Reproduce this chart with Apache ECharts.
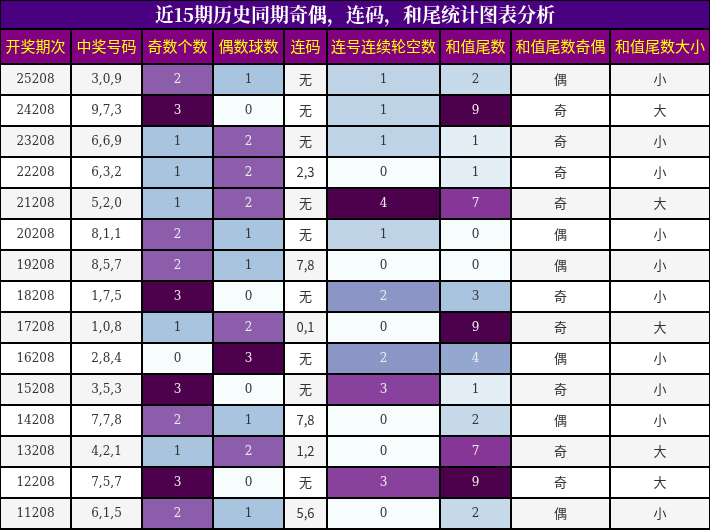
<!DOCTYPE html>
<html><head><meta charset="utf-8">
<script src="https://cdn.jsdelivr.net/npm/echarts@6/dist/echarts.min.js"></script>
<style>html,body{margin:0;padding:0;background:#fff}#c{width:710px;height:530px}</style>
</head><body><div id="c"></div>
<script>
var title = '近15期历史同期奇偶，连码，和尾统计图表分析';
var headers = ['开奖期次', '中奖号码', '奇数个数', '偶数球数', '连码', '连号连续轮空数', '和值尾数', '和值尾数奇偶', '和值尾数大小'];
var periods = ['25208', '24208', '23208', '22208', '21208', '20208', '19208', '18208', '17208', '16208', '15208', '14208', '13208', '12208', '11208'];
var numbers = ['3,0,9', '9,7,3', '6,6,9', '6,3,2', '5,2,0', '8,1,1', '8,5,7', '1,7,5', '1,0,8', '2,8,4', '3,5,3', '7,7,8', '4,2,1', '7,5,7', '6,1,5'];
var oddCount = [2, 3, 1, 1, 1, 2, 2, 3, 1, 0, 3, 2, 1, 3, 2];
var evenCount = [1, 0, 2, 2, 2, 1, 1, 0, 2, 3, 0, 1, 2, 0, 1];
var consec = ['无', '无', '无', '2,3', '无', '无', '7,8', '无', '0,1', '无', '无', '7,8', '1,2', '无', '5,6'];
var gapCount = [1, 1, 1, 0, 4, 1, 0, 2, 0, 2, 3, 0, 0, 3, 0];
var tail = [2, 9, 1, 1, 7, 0, 0, 3, 9, 4, 1, 2, 7, 9, 2];
var tailParity = ['偶', '奇', '奇', '奇', '奇', '偶', '偶', '奇', '奇', '偶', '奇', '偶', '奇', '奇', '偶'];
var tailSize = ['小', '大', '小', '小', '大', '小', '小', '小', '大', '小', '小', '小', '大', '大', '小'];

var colEdges = [0, 71, 142, 213, 284, 327, 440, 511, 610, 710];
var titleH = 29, headH = 35, rowH = 31;
var bupu = ['#f7fcfd', '#e0ecf4', '#bfd3e6', '#9ebcda', '#8c96c6', '#8c6bb1', '#88419d', '#810f7c', '#4d004b'];

var columns = [
  {vals: periods}, {vals: numbers}, {vals: oddCount, max: 3}, {vals: evenCount, max: 3},
  {vals: consec, cjk: true}, {vals: gapCount, max: 4}, {vals: tail, max: 9},
  {vals: tailParity, cjk: true}, {vals: tailSize, cjk: true}
];

var cells = [];
cells.push([0, 710, 0, titleH, title, '#4b0082', '#ffffff', 'title']);
headers.forEach(function (h, c) {
  cells.push([colEdges[c], colEdges[c + 1], titleH, titleH + headH, h, '#800080', '#ffff00', 'head']);
});
columns.forEach(function (col, c) {
  col.vals.forEach(function (v, r) {
    var y0 = titleH + headH + r * rowH;
    var fill = r % 2 === 0 ? '#f5f5f5' : '#ffffff', tc = '#333333';
    if (col.max) {
      var t = v / col.max;
      fill = echarts.color.lerp(t, bupu);
      if (t > 0.4) tc = '#eeeeee';
    }
    cells.push([colEdges[c], colEdges[c + 1], y0, y0 + rowH, String(v), fill, tc, col.cjk ? 'cjk' : 'num']);
  });
});

var chart = echarts.init(document.getElementById('c'));
chart.setOption({
  animation: false,
  grid: {left: 0, right: 0, top: 0, bottom: 0},
  xAxis: {type: 'value', min: 0, max: 710, show: false},
  yAxis: {type: 'value', min: 0, max: 530, inverse: true, show: false},
  series: [{
    type: 'custom',
    data: cells,
    renderItem: function (params, api) {
      var p0 = api.coord([api.value(0), api.value(2)]);
      var p1 = api.coord([api.value(1), api.value(3)]);
      var d = cells[params.dataIndex];
      var kind = d[7];
      var font = kind === 'title' ? 'bold 19px "DejaVu Serif", serif'
        : kind === 'head' ? '15px "Noto Sans CJK SC", sans-serif'
        : kind === 'cjk' ? '13px "Noto Sans CJK SC", sans-serif'
        : '12px "DejaVu Serif", serif';
      if (kind === 'title') font = 'bold 19px "Noto Serif CJK SC", "DejaVu Serif", serif';
      return {
        type: 'rect',
        shape: {x: p0[0], y: p0[1], width: p1[0] - p0[0], height: p1[1] - p0[1]},
        style: {fill: d[5], stroke: '#000', lineWidth: 2},
        textContent: {style: {text: d[4], fill: d[6], font: font, align: 'center', verticalAlign: 'middle'}},
        textConfig: {position: 'inside'}
      };
    }
  }]
});
</script></body></html>
